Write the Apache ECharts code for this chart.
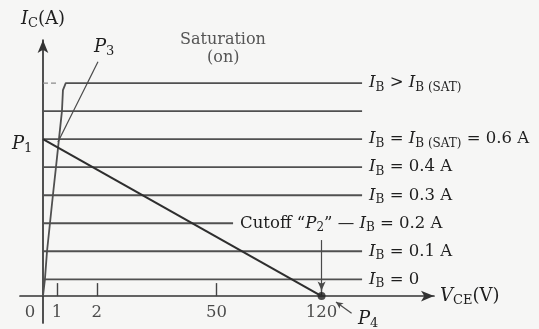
<!DOCTYPE html>
<html>
<head>
<meta charset="utf-8">
<script src="https://cdn.jsdelivr.net/npm/echarts@6/dist/echarts.min.js"></script>
<style>
  html, body { margin: 0; padding: 0; background: #f6f6f5; }
  #chart { width: 539px; height: 329px; }
</style>
</head>
<body>
<div id="chart"></div>
<script>
// Broken V_CE axis: tick values and where each sits along the axis
const vceTicks = [0, 1, 2, 50, 120];
const vceTickPos = [0, 1, 3.85, 12.4, 19.9];

// Base-current curves: collector-current level and where each curve stops
const ibLevels = [0.6, 1.6, 2.6, 3.6, 4.6, 5.6, 6.6];
const ibEndVce = [147, 147, 61, 147, 147, 147, 147];
const ibLabels = [
  '{i|I}{s|B} = 0',
  '{i|I}{s|B} = 0.1 A',
  'Cutoff \u201C{i|P}{s|2}\u201D \u2014 {i|I}{s|B} = 0.2 A',
  '{i|I}{s|B} = 0.3 A',
  '{i|I}{s|B} = 0.4 A',
  '{i|I}{s|B} = {i|I}{s|B (SAT)} = 0.6 A',
  ''
];

// Overdriven curve (I_B > I_B(SAT)): rises along the saturation edge, then flat
const satVce = [0, 0.14, 0.29, 0.5, 0.71, 0.93, 1.05, 1.125, 1.15, 1.22, 147];
const satIc  = [0, 0.6, 1.6, 2.6, 3.6, 4.6, 5.6, 6.6, 7.35, 7.6, 7.6];
const satLabel = '{i|I}{s|B} > {i|I}{s|B (SAT)}';
const satStubVce = [0, 1.0];

// Load line between P1 (on the I_C axis) and the cutoff point at 120 V
const loadVce = [0, 120];
const loadIc = [5.6, 0];

// Pointer lines: P3 to the saturation corner, P2 down to cutoff, P4 to cutoff
const p3Pointer = [[2.45, 8.36], [1.025, 5.5]];
const p2Pointer = [[120, 2.0], [120, 0.2]];
const p4Pointer = [[129.6, -0.21], [140, -0.61]];

// Map a V_CE value onto the broken axis (linear inside each tick interval)
function vx(v) {
  const n = vceTicks.length;
  let k = n - 2;
  for (let j = 0; j < n - 1; j++) {
    if (v <= vceTicks[j + 1]) { k = j; break; }
  }
  const t = (v - vceTicks[k]) / (vceTicks[k + 1] - vceTicks[k]);
  return vceTickPos[k] + t * (vceTickPos[k + 1] - vceTickPos[k]);
}

const SERIF = 'DejaVu Serif';
const INK = '#1e1e1e';
const LINE = '#505050';

function richSet(size) {
  return {
    i: { fontFamily: SERIF, fontStyle: 'italic', fontSize: size, color: INK, lineHeight: 22 },
    s: { fontFamily: SERIF, fontSize: Math.round(size * 0.74), color: INK, lineHeight: 12, verticalAlign: 'bottom' }
  };
}
function baseText(size) {
  return { fontFamily: SERIF, fontSize: size, color: INK, lineHeight: 22 };
}

const series = [];

ibLevels.forEach((lvl, k) => {
  series.push({
    type: 'line',
    data: [[vx(0), lvl], [vx(ibEndVce[k]), lvl]],
    symbol: 'none',
    lineStyle: { color: LINE, width: 1.8 },
    endLabel: {
      show: ibLabels[k] !== '',
      formatter: ibLabels[k],
      distance: 7,
      ...baseText(16.5),
      rich: richSet(16.5)
    },
    silent: true
  });
});

series.push({
  type: 'line',
  data: satVce.map((v, k) => [vx(v), satIc[k]]),
  symbol: 'none',
  lineStyle: { color: LINE, width: 1.8 },
  endLabel: { show: true, formatter: satLabel, distance: 7, ...baseText(16.5), rich: richSet(16.5) },
  silent: true
});

series.push({
  type: 'line',
  data: satStubVce.map(v => [vx(v), satIc[satIc.length - 1]]),
  symbol: 'none',
  lineStyle: { color: '#8a8a8a', width: 1.4, type: [5, 3] },
  silent: true
});

series.push({
  type: 'line',
  data: loadVce.map((v, k) => [vx(v), loadIc[k]]),
  symbol: 'none',
  lineStyle: { color: '#2e2e2e', width: 2.1 },
  silent: true
});

// Cutoff point P2/P4
series.push({
  type: 'scatter',
  data: [[vx(loadVce[1]), loadIc[1]]],
  symbolSize: 8,
  itemStyle: { color: '#222' },
  silent: true
});

// V_CE tick labels, placed under the axis line at I_C = 0
series.push({
  type: 'scatter',
  symbolSize: 0,
  silent: true,
  data: vceTickPos.map((p, k) => ({
    value: [p, 0],
    label: k === 0 ? { offset: [-13, 0] } : {}
  })),
  label: {
    show: true,
    position: 'bottom',
    distance: 8,
    formatter: function (prm) { return String(vceTicks[prm.dataIndex]); },
    fontFamily: SERIF,
    fontSize: 16.5,
    color: INK
  }
});

function pointer(p) {
  return [{ coord: [vx(p[0][0]), p[0][1]] }, { coord: [vx(p[1][0]), p[1][1]] }];
}
function pointerSeries(p, symbol, size) {
  return {
    type: 'line',
    data: [],
    silent: true,
    markLine: {
      silent: true,
      animation: false,
      label: { show: false },
      lineStyle: { color: '#4a4a4a', width: 1.2, type: 'solid' },
      symbol: symbol,
      symbolSize: size,
      data: [pointer(p)]
    }
  };
}
series.push(pointerSeries(p3Pointer, ['none', 'none'], 0));
series.push(pointerSeries(p2Pointer, ['none', 'arrow'], [6, 9]));
series.push(pointerSeries(p4Pointer, ['arrow', 'none'], [5, 7]));

const chart = echarts.init(document.getElementById('chart'), null, { renderer: 'canvas' });

chart.setOption({
  animation: false,
  backgroundColor: '#f6f6f5',
  grid: { left: 20, right: 105, top: 40, bottom: 6, outerBoundsMode: 'none' },
  xAxis: {
    type: 'value',
    min: -1.64,
    max: 27.93,
    splitLine: { show: false },
    axisLine: {
      onZero: true,
      lineStyle: { color: '#333', width: 1.7 },
      symbol: ['none', 'arrow'],
      symbolSize: [8, 13]
    },
    axisTick: {
      show: true,
      inside: true,
      length: 13,
      customValues: vceTickPos.slice(1),
      lineStyle: { color: '#444', width: 1.4 }
    },
    axisLabel: { show: false },
    name: '{i|V}{s|CE}(V)',
    nameLocation: 'end',
    nameGap: 6,
    nameTextStyle: { ...baseText(18), align: 'left', verticalAlign: 'middle', rich: richSet(18) }
  },
  yAxis: {
    type: 'value',
    min: -0.96,
    max: 9.14,
    splitLine: { show: false },
    axisTick: { show: false },
    axisLabel: { show: false },
    axisLine: {
      onZero: true,
      lineStyle: { color: '#333', width: 1.7 },
      symbol: ['none', 'arrow'],
      symbolSize: [8, 13]
    },
    name: '{i|I}{s|C}(A)',
    nameLocation: 'end',
    nameGap: 10,
    nameTextStyle: { ...baseText(18), align: 'center', rich: richSet(18) }
  },
  graphic: [
    { type: 'text', left: 180, top: 32, style: { text: 'Saturation', font: '16px "DejaVu Serif"', fill: '#555' } },
    { type: 'text', left: 207, top: 50, style: { text: '(on)', font: '16px "DejaVu Serif"', fill: '#555' } },
    { type: 'text', left: 12, top: 135, style: { text: '{i|P}{s|1}', rich: richSet(18), fill: INK } },
    { type: 'text', left: 94, top: 38, style: { text: '{i|P}{s|3}', rich: richSet(18), fill: INK } },
    { type: 'text', left: 358, top: 310, style: { text: '{i|P}{s|4}', rich: richSet(18), fill: INK } }
  ],
  series: series
});
</script>
</body>
</html>
